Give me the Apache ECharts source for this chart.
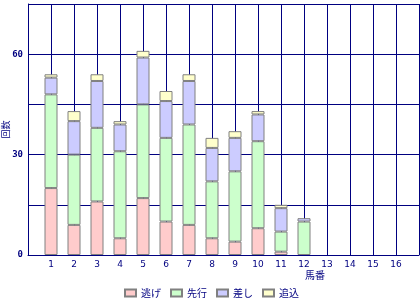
<!DOCTYPE html>
<html><head><meta charset="utf-8">
<script src="https://cdn.jsdelivr.net/npm/echarts@6/dist/echarts.min.js"></script>
<style>html,body{margin:0;padding:0;background:#fff}#c{width:420px;height:300px}</style>
</head><body><div id="c"></div>
<script>
const horses = ['1','2','3','4','5','6','7','8','9','10','11','12','13','14','15','16'];
const nige   = [20, 9,16, 5,17,10, 9, 5, 4, 8, 1, 0, 0, 0, 0, 0];
const senko  = [28,21,22,26,28,25,30,17,21,26, 6,10, 0, 0, 0, 0];
const sashi  = [ 5,10,14, 8,14,11,13,10,10, 8, 7, 1, 0, 0, 0, 0];
const oikomi = [ 1, 3, 2, 1, 2, 3, 2, 3, 2, 1, 1, 0, 0, 0, 0, 0];
const seriesNames = ['逃げ','先行','差し','追込'];
const colors = ['#FFCCCC','#CCFFCC','#CCCCFF','#FFFFCC'];
const navy = '#000080';
const cats = [''].concat(horses, ['']);
const pad = a => [null].concat(a.map(v => v === 0 ? null : v), [null]);
const chart = echarts.init(document.getElementById('c'));
const FONT = '"DejaVu Sans", sans-serif';
chart.setOption({
  animation: false,
  grid: {left: 28, right: 1, top: 4, bottom: 45, containLabel: false, outerBoundsMode: 'none'},
  legend: {
    data: seriesNames, left: 124, top: 288, padding: 0, itemWidth: 11, itemHeight: 7, itemGap: 9,
    icon: 'rect', textStyle: {color: navy, fontSize: 10, fontFamily: '"Noto Sans CJK JP"'}
  },
  graphic: [{type: 'text', left: 305, top: 270, style: {text: '馬番', fill: navy, fontSize: 10, fontFamily: '"Noto Sans CJK JP"'}}],
  xAxis: {
    type: 'category', data: cats, boundaryGap: false,
    axisLine: {lineStyle: {color: navy, width: 1}}, axisTick: {show: false},
    axisLabel: {interval: 0, color: navy, fontSize: 9, fontFamily: FONT, margin: 5},
    splitLine: {show: true, lineStyle: {color: navy, width: 1}}
  },
  yAxis: {
    type: 'value', min: 0, max: 75, interval: 15,
    name: '回数', nameLocation: 'middle', nameGap: 18, nameRotate: 90, nameMoveOverlap: false,
    nameTextStyle: {color: navy, fontSize: 9, fontFamily: '"Noto Sans CJK JP"'},
    axisLine: {show: true, lineStyle: {color: navy, width: 1}}, axisTick: {show: false},
    axisLabel: {color: navy, fontSize: 9, fontWeight: 'bold', fontFamily: '"DejaVu Sans Mono", monospace', margin: 5,
      formatter: v => (v % 30 === 0 && v < 75) ? String(v) : ''},
    splitLine: {show: true, lineStyle: {color: navy, width: 1}}
  },
  series: [nige, senko, sashi, oikomi].map((d, i) => ({
    name: seriesNames[i], type: 'bar', stack: 'all', data: pad(d), barWidth: 13,
    itemStyle: {color: colors[i], borderColor: '#808080', borderWidth: 1}
  }))
});
</script></body></html>
